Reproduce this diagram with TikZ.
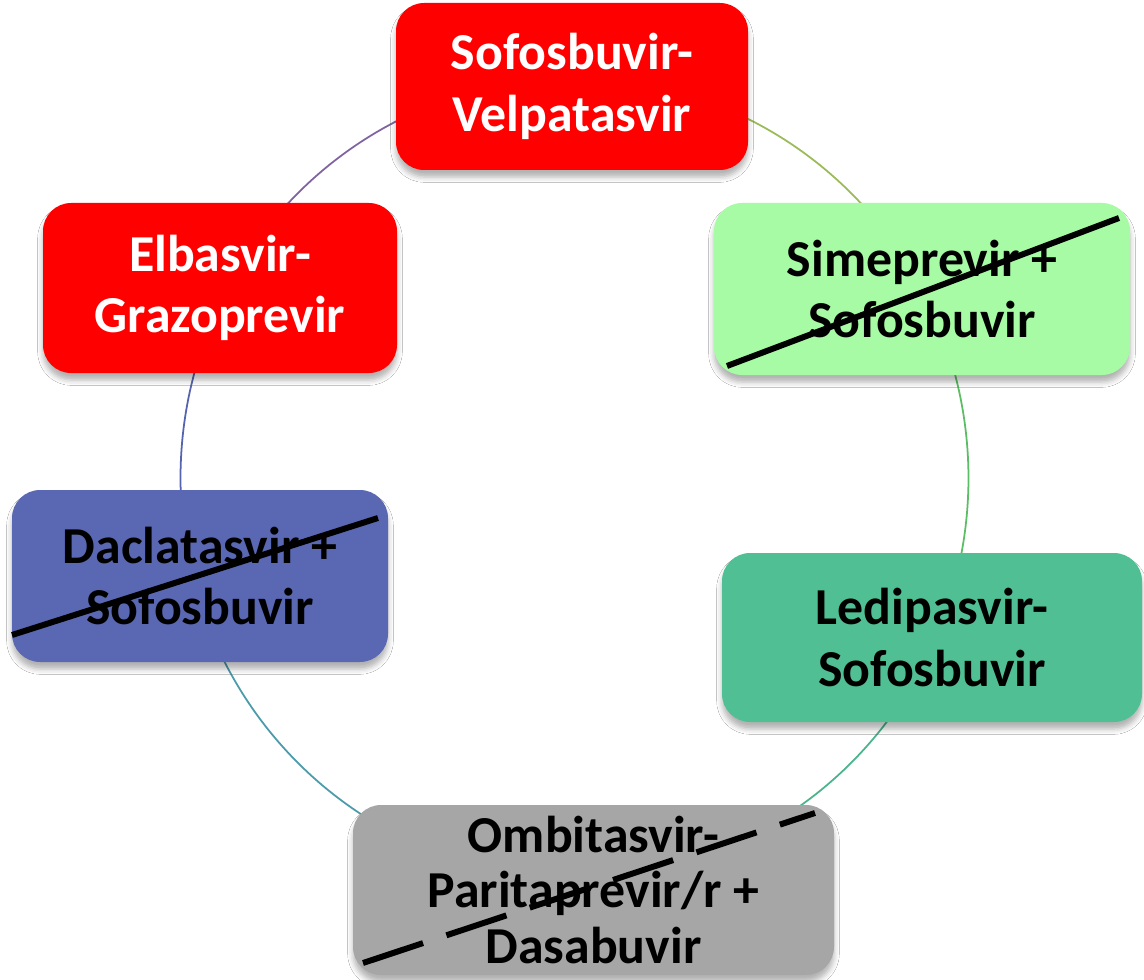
\documentclass[tikz,border=0pt]{standalone}
\usepackage{fontspec}
\setmainfont{Carlito}
\usetikzlibrary{shadows.blur}

\definecolor{cRed}{RGB}{255,0,0}
\definecolor{cSime}{RGB}{166,251,164}
\definecolor{cLedi}{RGB}{80,191,147}
\definecolor{cOmbi}{RGB}{166,166,166}
\definecolor{cDacl}{RGB}{90,103,178}
\definecolor{aPurple}{RGB}{128,100,162}
\definecolor{aOlive}{RGB}{155,187,89}
\definecolor{aGreen}{RGB}{92,190,100}
\definecolor{aTealGreen}{RGB}{75,180,140}
\definecolor{aTeal}{RGB}{75,155,170}
\definecolor{aBlue}{RGB}{85,100,175}

\begin{document}
\begin{tikzpicture}[x=0.02cm,y=-0.02cm,
  drug/.style={rectangle, rounded corners=16pt,
    font=\fontsize{29.5}{35}\selectfont\bfseries, align=center, inner sep=0pt,
    blur shadow={shadow xshift=0pt, shadow yshift=-4pt, shadow blur radius=3pt, shadow opacity=30}},
  sz/.style 2 args={minimum width=#1*0.02cm, minimum height=#2*0.02cm},
  cyc/.style={line width=1pt},
  strike/.style={line width=3.4pt, line cap=butt}]

\useasboundingbox (0,0) rectangle (1144,980);
\fill[white] (0,0) rectangle (1144,980);

% cycle arcs (ellipse centre 574.5,478)
\def\cx{574.5}\def\cy{478}
\draw[cyc,aOlive] (\cx,\cy) ++(-90.4:394 and 400) arc[start angle=-90.4,end angle=-28.6,x radius=394,y radius=400];
\draw[cyc,aGreen] (\cx,\cy) ++(-28.6:394 and 400) arc[start angle=-28.6,end angle=23.1,x radius=394,y radius=400];
\draw[cyc,aTealGreen] (\cx,\cy) ++(23.1:394 and 400) arc[start angle=23.1,end angle=87.3,x radius=394,y radius=400];
\draw[cyc,aTeal] (\cx,\cy) ++(87.3:394 and 400) arc[start angle=87.3,end angle=166.2,x radius=394,y radius=400];
\draw[cyc,aBlue] (\cx,\cy) ++(166.2:394 and 400) arc[start angle=166.2,end angle=208.2,x radius=394,y radius=400];
\draw[cyc,aPurple] (\cx,\cy) ++(208.2:394 and 400) arc[start angle=208.2,end angle=269.6,x radius=394,y radius=400];

% boxes
\node[drug, fill=cRed, text=white, sz={352}{167}] (sofvel) at (572,86.5) {Sofosbuvir-\\Velpatasvir};
\node[drug, fill=cSime, sz={416}{172}] (simsof) at (922,289) {Simeprevir +\\Sofosbuvir};
\node[drug, fill=cLedi, sz={420}{169}] (ledsof) at (932,637.5) {Ledipasvir-\\Sofosbuvir};
\node[drug, fill=cOmbi, sz={481}{170}, font=\fontsize{29.5}{31.5}\selectfont\bfseries] (ombi) at (593.5,890) {Ombitasvir-\\Paritaprevir/r +\\Dasabuvir};
\node[drug, fill=cDacl, sz={376}{172}] (dacsof) at (200,576) {Daclatasvir +\\Sofosbuvir};
\node[drug, fill=cRed, text=white, sz={354}{170}] (elbgra) at (220,288) {Elbasvir-\\Grazoprevir};

% strike-through lines
\draw[strike] (727,366) -- (1119,218);
\draw[strike] (12,635) -- (378,518);
\draw[strike, dash pattern=on 36pt off 14pt] (363,963) -- (815,813);
\end{tikzpicture}
\end{document}
